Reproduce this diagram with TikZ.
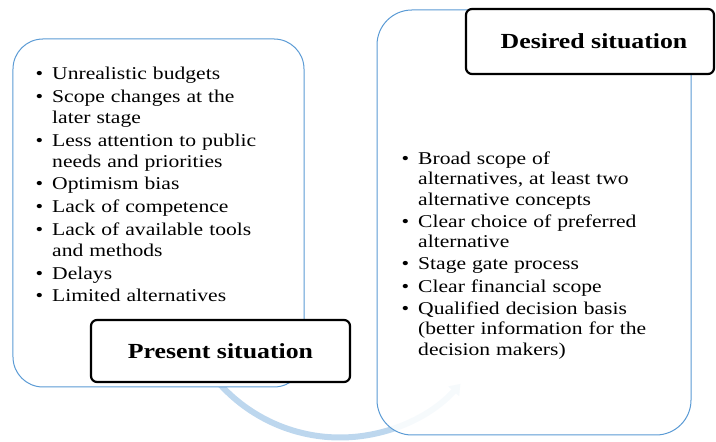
\documentclass[tikz,border=0pt]{standalone}
\usepackage{fontspec}
\setmainfont{Liberation Serif}[FakeStretch=1.2]
\usetikzlibrary{arrows.meta}
\definecolor{boxblue}{RGB}{91,155,213}
\definecolor{bandblue}{RGB}{189,215,238}
\newenvironment{blist}{\begin{list}{\textbullet}{%
  \setlength{\leftmargin}{17bp}\setlength{\labelwidth}{8bp}%
  \setlength{\labelsep}{9bp}\setlength{\itemsep}{2bp}%
  \setlength{\parsep}{0pt}\setlength{\topsep}{0pt}%
  \setlength{\partopsep}{0pt}\setlength{\itemindent}{0pt}}}{\end{list}}
\begin{document}
\begin{tikzpicture}[x=1bp,y=1bp,
  bigbox/.style={draw=boxblue, line width=1bp, fill=white},
  titlebox/.style={draw=black, line width=2.2bp, fill=white, rounded corners=6bp},
  titletext/.style={font=\fontsize{21.5bp}{24bp}\selectfont\bfseries},
  listtext/.style={text width=250bp, inner sep=0pt, anchor=north west},
  band/.style={draw=bandblue, line width=6bp, -{Triangle[length=10bp,width=14bp]}}]
\useasboundingbox (0,0) rectangle (716,442);
% circular arrow behind the boxes
\coordinate (arcc) at (340,166.5);
\draw[band] (arcc) ++(212:162) arc[start angle=212, end angle=318, radius=162bp];
% present situation
\node[bigbox, rounded corners=30bp, minimum width=291bp, minimum height=348bp] (leftbox) at (158.5,229) {};
\node[listtext, font=\fontsize{18bp}{20.8bp}\selectfont] (plist) at (35,383) {\raggedright
\begin{blist}
\item Unrealistic budgets
\item Scope changes at the\newline later stage
\item Less attention to public\newline needs and priorities
\item Optimism bias
\item Lack of competence
\item Lack of available tools\newline and methods
\item Delays
\item Limited alternatives
\end{blist}};
\node[titlebox, minimum width=259bp, minimum height=62bp, titletext] (present) at (220.5,91) {Present situation};
% desired situation
\node[bigbox, fill opacity=0.88, rounded corners=35bp, minimum width=314bp, minimum height=425bp] (rightbox) at (534,219.5) {};
\node[listtext, font=\fontsize{18bp}{20.3bp}\selectfont] (dlist) at (401,298) {\raggedright
\begin{blist}
\item Broad scope of\newline alternatives, at least two\newline alternative concepts
\item Clear choice of preferred\newline alternative
\item Stage gate process
\item Clear financial scope
\item Qualified decision basis\newline (better information for the\newline decision makers)
\end{blist}};
\node[titlebox, minimum width=248bp, minimum height=65bp, titletext, text depth=0pt] (desired) at (590,400.5) {\hspace*{8bp}Desired situation};
\end{tikzpicture}
\end{document}
